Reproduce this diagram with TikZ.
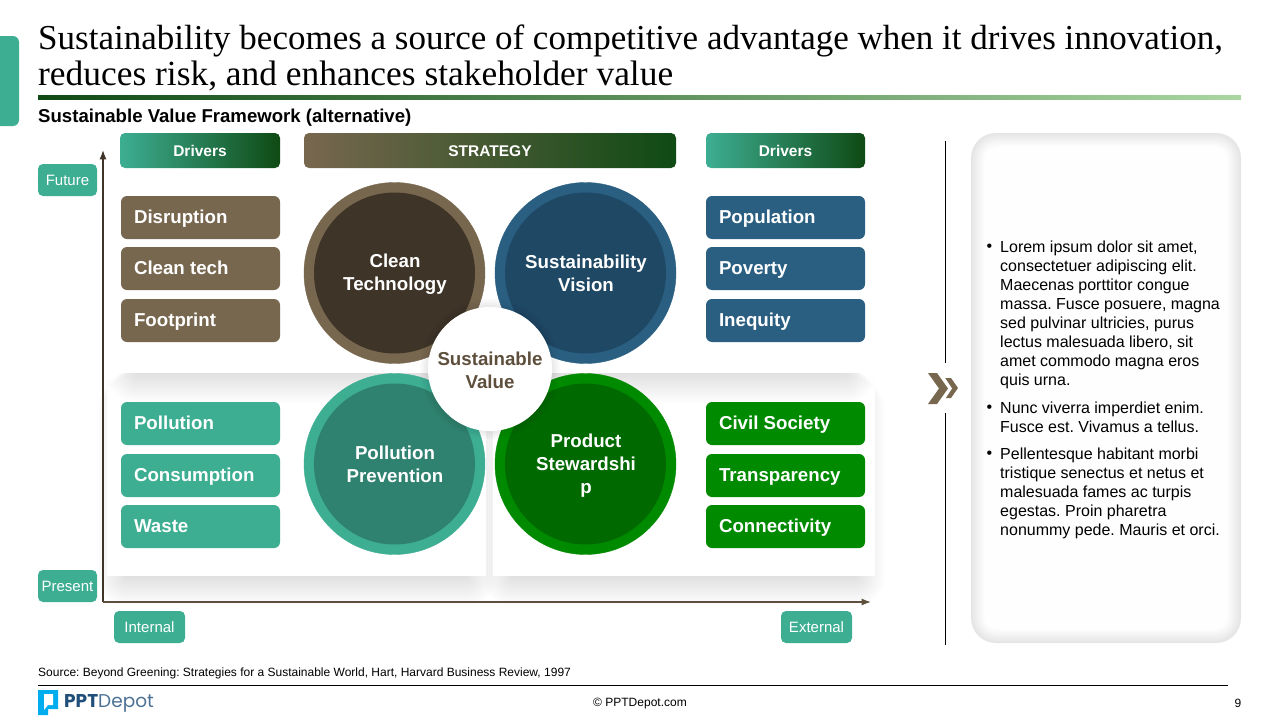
\documentclass[tikz,border=0pt]{standalone}
\usepackage{fontspec}
\setmainfont{Liberation Sans}
\newfontfamily\titlefont{Liberation Serif}
\newfontfamily\logofont{Poppins}
\usetikzlibrary{arrows.meta}
\definecolor{teal1}{HTML}{3DAE92}
\definecolor{teal2}{HTML}{2F8270}
\definecolor{brown1}{HTML}{78674F}
\definecolor{brown2}{HTML}{3F3428}
\definecolor{blue1}{HTML}{2A5F82}
\definecolor{blue2}{HTML}{1F4864}
\definecolor{green1}{HTML}{008A00}
\definecolor{green2}{HTML}{006A00}
\definecolor{forest}{HTML}{0F4A14}
\definecolor{rulegreen}{HTML}{A9D6A1}
\definecolor{axisbrown}{HTML}{5E4F3C}
\definecolor{logocyan}{HTML}{00AEEF}
\definecolor{logoblue}{HTML}{1F4E79}
\newcommand{\softshadow}[4]{%
	\foreach \i in {2,4,...,30}
		\fill [black,opacity=0.006,rounded corners=\i pt] (#1+20-\i,#2) rectangle (#3-20+\i,#4+\i);
}
\begin{document}
\frenchspacing
\begin{tikzpicture}[x=1pt,y=-1pt]
	    \tikzset{>=Latex}
	    \tikzset{
	    	headbox/.style={inner sep=0,minimum height=35pt,text height=12pt,text depth=0pt,rounded corners=5pt,text=white,font=\fontsize{15.5}{19}\selectfont\bfseries},
	    	tagbox/.style={inner sep=0,minimum height=32pt,rounded corners=5pt,fill=teal1,text=white,font=\fontsize{15}{18}\selectfont},
	    	itembox/.style={inner sep=0,minimum width=159pt,minimum height=43pt,rounded corners=6pt},
	    	itemtext/.style={anchor=base west,inner sep=0,text=white,font=\fontsize{18.7}{23}\selectfont\bfseries},
	    	bigtext/.style={inner sep=0,align=center,text=white,font=\fontsize{18.7}{23}\selectfont\bfseries},
	    	bodytext/.style={anchor=north west,inner sep=0,align=left,font=\fontsize{16}{19}\selectfont},
	    	smalltext/.style={inner sep=0,font=\fontsize{12}{14}\selectfont}
	    }
	    \useasboundingbox (0,0) rectangle (1280,720);
	    % heading
	    \fill [teal1,rounded corners=6pt] (-10,36) rectangle (19,126);
	    \node [anchor=base west,inner sep=0,font=\titlefont\fontsize{35}{40}\selectfont] (title1) at (38,49) {Sustainability becomes a source of competitive advantage when it drives innovation,};
	    \node [anchor=base west,inner sep=0,font=\titlefont\fontsize{35.4}{40}\selectfont] (title2) at (38,85) {reduces risk, and enhances stakeholder value};
	    \shade [left color=forest,right color=rulegreen] (38,95) rectangle (1241,99);
	    \node [anchor=base west,inner sep=0,font=\fontsize{18.6}{21}\selectfont\bfseries] (subtitle) at (38,122) {Sustainable Value Framework (alternative)};
	    % panels behind the circles
	    \softshadow{107}{380}{486}{576}
	    \softshadow{493}{380}{875}{576}
	    \fill [white] (107,373) rectangle (486,576);
	    \fill [white] (493,373) rectangle (875,576);
	    \softshadow{117}{368}{476}{373}
	    \softshadow{503}{368}{865}{373}
	    \fill [white] (107,178) rectangle (486,373);
	    \fill [white] (493,178) rectangle (875,373);
	    % column heads
	    \node [headbox,minimum width=160pt,left color=teal1,middle color=teal1!85!forest,right color=forest] (driversL) at (200,150.5) {Drivers};
	    \node [headbox,minimum width=372pt,left color=brown1,middle color=brown1!92!forest,right color=forest] (strategy) at (490,150.5) {STRATEGY};
	    \node [headbox,minimum width=159pt,left color=teal1,middle color=teal1!85!forest,right color=forest] (driversR) at (785.5,150.5) {Drivers};
	    % axes
	    \coordinate (O) at (103,602);
	    \coordinate (Y) at (103,150);
	    \coordinate (X) at (871,602);
	    \draw [->,line width=1.4pt,brown2] (O) -- (Y);
	    \draw [->,line width=1.4pt,axisbrown] (O) -- (X);
	    \node [tagbox,minimum width=59pt] (future) at (67.5,180) {Future};
	    \node [tagbox,minimum width=59pt] (present) at (67.5,586) {Present};
	    \node [tagbox,minimum width=71pt] (internal) at (149.5,627) {Internal};
	    \node [tagbox,minimum width=71pt] (external) at (816.5,627) {External};
	    % left and right lists
	    \foreach \name/\txt/\col/\cx/\cy in {
	    	disruption/Disruption/brown1/200.5/217.5,
	    	cleantech/Clean tech/brown1/200.5/268.5,
	    	footprint/Footprint/brown1/200.5/320.5,
	    	pollution/Pollution/teal1/200.5/423.5,
	    	consumption/Consumption/teal1/200.5/475.5,
	    	waste/Waste/teal1/200.5/526.5,
	    	population/Population/blue1/785.5/217.5,
	    	poverty/Poverty/blue1/785.5/268.5,
	    	inequity/Inequity/blue1/785.5/320.5,
	    	civil/Civil Society/green1/785.5/423.5,
	    	transparency/Transparency/green1/785.5/475.5,
	    	connectivity/Connectivity/green1/785.5/526.5}{
	    	\node [itembox,fill=\col] (\name) at (\cx,\cy) {};
	    	\node [itemtext] at ([xshift=13pt,yshift=-6pt]\name.west) {\txt};
	    }
	    % circles
	    \filldraw [brown1] (394.5,273) circle (90.5);
	    \fill [brown2] (394.5,273) circle (80.5);
	    \filldraw [blue1] (585.5,273) circle (90.5);
	    \fill [blue2] (585.5,273) circle (80.5);
	    \filldraw [teal1] (394.5,464) circle (90.5);
	    \fill [teal2] (394.5,464) circle (80.5);
	    \filldraw [green1] (585.5,464) circle (90.5);
	    \fill [green2] (585.5,464) circle (80.5);
	    \node [bigtext] (clean) at (395,274.5) {Clean\\Technology};
	    \node [bigtext] (vision) at (586,273) {Sustainability\\Vision};
	    \node [bigtext] (prevention) at (395,464) {Pollution\\Prevention};
	    \node [bigtext] (stewardship) at (586,466) {Product\\Stewardshi\\p};
	    \foreach \i in {8,6,4,2}
	    	\fill [black,opacity=0.02] (490,369) circle (62+\i);
	    \fill [white] (490,369) circle (62);
	    \node [bigtext,text=axisbrown] (value) at (490,370) {Sustainable\\Value};
	    % divider with chevrons
	    \coordinate (d1) at (945.5,141);
	    \coordinate (d2) at (945.5,363);
	    \coordinate (d3) at (945.5,413);
	    \coordinate (d4) at (945.5,645);
	    \draw [line width=1pt] (d1) -- (d2);
	    \draw [line width=1pt] (d3) -- (d4);
	    \fill [brown1] (945,378) -- (951,378) -- (958,388) -- (951,398) -- (945,398) -- (950,388) -- cycle;
	    \fill [white] (939,372) -- (941,372) -- (952,388.5) -- (941,405) -- (939,405) -- cycle;
	    \fill [brown1] (928,373) -- (937,373) -- (948,388.5) -- (937,404) -- (928,404) -- (939,388.5) -- cycle;
	    % text panel
	    \foreach \i [evaluate=\i as \g using 10-\i*0.7,evaluate=\i as \r using 25-\i] in {0,...,14}
	    	\fill [black!\g!white,rounded corners=\r pt] (971+\i,133+\i) rectangle (1241-\i,643-\i);
	    \node [smalltext,font=\fontsize{16}{19}\selectfont] (dot1) at (989.5,248) {•};
	    \node [smalltext,font=\fontsize{16}{19}\selectfont] (dot2) at (989.5,409) {•};
	    \node [smalltext,font=\fontsize{16}{19}\selectfont] (dot3) at (989.5,455) {•};
	    \node [bodytext] (para1) at (1000,241) {Lorem ipsum dolor sit amet,\\consectetuer adipiscing elit.\\Maecenas porttitor congue\\massa. Fusce posuere, magna\\sed pulvinar ultricies, purus\\lectus malesuada libero, sit\\amet commodo magna eros\\quis urna.};
	    \node [bodytext] (para2) at (1000,402) {Nunc viverra imperdiet enim.\\Fusce est. Vivamus a tellus.};
	    \node [bodytext] (para3) at (1000,448) {Pellentesque habitant morbi\\tristique senectus et netus et\\malesuada fames ac turpis\\egestas. Proin pharetra\\nonummy pede. Mauris et orci.};
	    % footer
	    \node [smalltext,anchor=base west] (source) at (38,676) {Source: Beyond Greening: Strategies for a Sustainable World, Hart, Harvard Business Review, 1997};
	    \coordinate (f1) at (38,685.5);
	    \coordinate (f2) at (1228,685.5);
	    \draw [line width=1pt] (f1) -- (f2);
	    \fill [logocyan] (38,690) -- (58,690) -- (58,709) -- (48,709) -- (48,715) -- (38,715) -- cycle;
	    \fill [white] (44,694) -- (53,694) -- (53,705) -- (48,705) -- (44,710) -- cycle;
	    \node [anchor=base west,inner sep=0,text=logoblue,font=\logofont\fontsize{18.5}{24}\selectfont] (logo) at (64,707) {\textbf{PPT}\textcolor{logoblue!80!white}{Depot}};
	    \node [smalltext] (copyright) at (640,703.5) {© PPTDepot.com};
	    \node [smalltext] (page) at (1238,703) {9};
\end{tikzpicture}
\end{document}
